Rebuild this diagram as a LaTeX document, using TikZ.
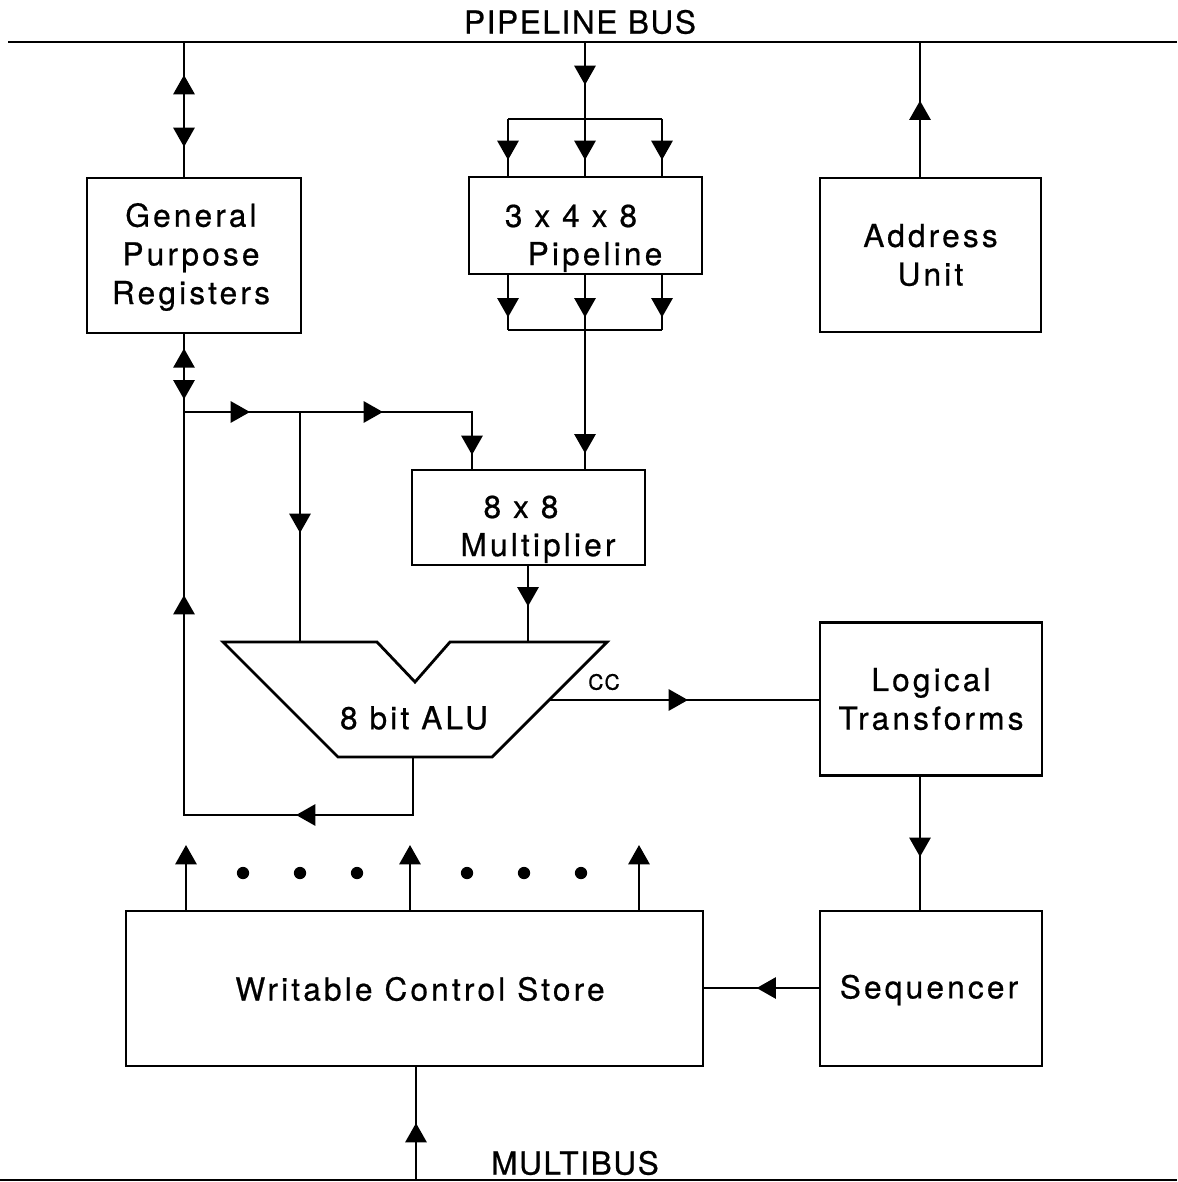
\documentclass[tikz,border=0pt]{standalone}
\usepackage{fontspec}
\setmainfont{TeX Gyre Heros}[LetterSpace=10.0,FakeBold=0.6]
\newfontfamily\busfont{TeX Gyre Heros}[LetterSpace=5.0,FakeBold=0.6]
\usetikzlibrary{arrows.meta,decorations.markings}
\begin{document}
\begin{tikzpicture}[x=0.02cm,y=-0.02cm,line width=1.6pt,
  box/.style={draw,rectangle,align=center,inner sep=0pt,font=\fontsize{18}{22}\selectfont},
  lbl/.style={inner sep=0pt,align=center,font=\fontsize{18}{22}\selectfont},
  buslbl/.style={inner sep=0pt,font=\busfont\fontsize{18}{22}\selectfont},
  tri/.style={-{Triangle[width=12pt,length=11pt]}},
  arr/.style={postaction={decorate,decoration={markings,mark=at position #1 with {\arrow{Triangle[width=12pt,length=11pt]}}}}},
  rarr/.style={postaction={decorate,decoration={markings,mark=at position #1 with {\arrowreversed{Triangle[width=12pt,length=11pt]}}}}},
  dotc/.style={fill,circle,inner sep=0pt,minimum size=7pt}]
\useasboundingbox[fill=white] (0,0) rectangle (1177,1182);

% buses
\coordinate (pbL) at (8,42);
\coordinate (pbR) at (1177,42);
\coordinate (mbL) at (0,1180);
\coordinate (mbR) at (1177,1180);
\draw (pbL) -- (pbR);
\draw (mbL) -- (mbR);
\node[buslbl] (pbus) at (580,22) {PIPELINE BUS};
\node[buslbl] (mbus) at (575,1163) {MULTIBUS};

% boxes
\node[box,minimum width=4.28cm,minimum height=3.10cm] (gpr) at (194,255.5) {};
\node[lbl] (gprt) at (191,257) {General\\Purpose\\Registers};
\node[box,minimum width=4.66cm,minimum height=1.94cm] (pipe) at (585.5,225.5) {};
\node[lbl] (pipet1) at (571,216) {3 x 4 x 8};
\node[lbl] (pipet2) at (595,257) {Pipeline};
\node[box,minimum width=4.42cm,minimum height=3.08cm] (addr) at (930.5,255) {Address\\Unit};
\node[box,minimum width=4.66cm,minimum height=1.90cm] (mult) at (528.5,517.5) {};
\node[lbl] (multt1) at (521,507) {8 x 8};
\node[lbl] (multt2) at (538,548) {Multiplier};
\node[box,minimum width=4.44cm,minimum height=3.06cm] (logic) at (931,699) {Logical\\Transforms};
\node[box,minimum width=4.44cm,minimum height=3.10cm] (seq) at (931,988.5) {};
\node[lbl] (seqt) at (929,990) {Sequencer};
\node[box,minimum width=11.54cm,minimum height=3.10cm] (wcs) at (414.5,988.5) {};
\node[lbl] (wcst) at (420,989) {Writable Control Store};

% ALU
\coordinate (aTL) at (223,642);
\coordinate (aV1) at (377,642);
\coordinate (aV) at (415,682);
\coordinate (aV2) at (450,642);
\coordinate (aTR) at (607,642);
\coordinate (aBR) at (492,757);
\coordinate (aBL) at (338,757);
\draw[line join=miter] (aTL) -- (aV1) -- (aV) -- (aV2) -- (aTR) -- (aBR) -- (aBL) -- cycle;
\node[lbl] (alu) at (414,718) {8 bit ALU};
\node[inner sep=0pt,font=\busfont\fontsize{12}{14}\selectfont] (cc) at (604,682) {CC};

% coordinates for connectors
\coordinate (gx) at (184,42);
\coordinate (jn) at (184,412);
\coordinate (px) at (585,42);
\coordinate (sL) at (508,119);
\coordinate (sR) at (662,119);
\coordinate (bL) at (508,330);
\coordinate (bR) at (662,330);
\coordinate (ax) at (920,42);
\coordinate (mx) at (472,412);
\coordinate (br) at (300,412);
\coordinate (brE) at (300,642);
\coordinate (mo) at (528,642);
\coordinate (aOut) at (549,700);
\coordinate (aBot) at (413,757);
\coordinate (lpR) at (413,815);
\coordinate (lpL) at (184,815);
\coordinate (lx) at (920,0);
\coordinate (sqy) at (0,988);
\coordinate (mb) at (416,1180);

% GPR <-> bus
\draw[rarr=0.66cm,arr=2.10cm] (gx) -- (gx |- gpr.north);
% bus -> pipeline
\draw[arr=0.86cm,arr=2.36cm] (px) -- (px |- pipe.north);
\draw (sL) -- (sR);
\draw[arr=0.82cm] (sL) -- (sL |- pipe.north);
\draw[arr=0.82cm] (sR) -- (sR |- pipe.north);
% pipeline -> multiplier
\draw (bL) -- (bR);
\draw[arr=0.84cm] (sL |- pipe.south) -- (bL);
\draw[arr=0.84cm] (sR |- pipe.south) -- (bR);
\draw[arr=0.84cm,arr=3.56cm] (px |- pipe.south) -- (px |- mult.north);
% address -> bus
\draw[arr=1.52cm] (ax |- addr.north) -- (ax);
% GPR <-> junction
\draw[rarr=0.28cm,arr=1.30cm] (gx |- gpr.south) -- (jn);
% junction -> multiplier
\draw[arr=1.32cm,arr=3.98cm,arr=6.62cm] (jn) -- (mx) -- (mx |- mult.north);
% branch -> ALU
\draw[arr=2.42cm] (br) -- (brE);
% multiplier -> ALU
\draw[arr=0.80cm] (mo |- mult.south) -- (mo);
% ALU loop back
\draw[arr=3.50cm,arr=10.14cm] (aBot) -- (lpR) -- (lpL) -- (jn);
% ALU -> logical
\draw[arr=2.78cm] (aOut) -- (aOut -| logic.west);
% logical -> sequencer
\draw[arr=1.60cm] (lx |- logic.south) -- (lx |- seq.north);
% sequencer -> WCS
\draw[arr=1.24cm] (seq.west |- sqy) -- (wcs.east |- sqy);
% WCS outputs
\coordinate (o1) at (186,845);
\coordinate (o2) at (410,845);
\coordinate (o3) at (639,845);
\draw[tri] (o1 |- wcs.north) -- (o1);
\draw[tri] (o2 |- wcs.north) -- (o2);
\draw[tri] (o3 |- wcs.north) -- (o3);
\node[dotc] (d1) at (243,873) {};
\node[dotc] (d2) at (300,873) {};
\node[dotc] (d3) at (357,873) {};
\node[dotc] (d4) at (467,873) {};
\node[dotc] (d5) at (524,873) {};
\node[dotc] (d6) at (581,873) {};
% multibus -> WCS
\draw[arr=1.14cm] (mb) -- (mb |- wcs.south);
\end{tikzpicture}
\end{document}
